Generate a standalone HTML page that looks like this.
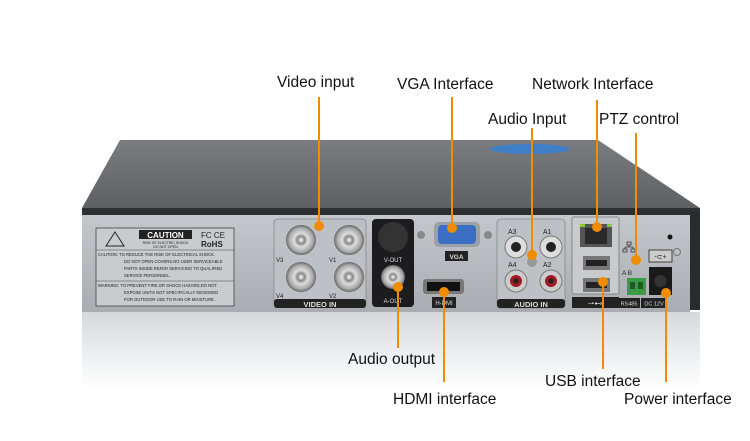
<!DOCTYPE html>
<html><head><meta charset="utf-8"><style>
html,body{margin:0;padding:0;background:#fff;width:750px;height:441px;overflow:hidden}
</style></head><body>
<svg width="750" height="441" viewBox="0 0 750 441" xmlns="http://www.w3.org/2000/svg" font-family="Liberation Sans, sans-serif">
<defs>
<linearGradient id="lid" x1="0" y1="0" x2="0" y2="1"><stop offset="0" stop-color="#7a7c80"/><stop offset="1" stop-color="#5e6064"/></linearGradient>
<linearGradient id="pan" x1="0" y1="0" x2="0" y2="1"><stop offset="0" stop-color="#c4c7cb"/><stop offset="1" stop-color="#a9acb0"/></linearGradient>
<linearGradient id="ref" x1="0" y1="0" x2="0" y2="1"><stop offset="0" stop-color="#d6d8db"/><stop offset="0.6" stop-color="#f0f1f2"/><stop offset="1" stop-color="#ffffff"/></linearGradient>
<radialGradient id="bnc"><stop offset="0" stop-color="#fff"/><stop offset="0.25" stop-color="#888"/><stop offset="0.45" stop-color="#ddd"/><stop offset="0.8" stop-color="#aaa"/><stop offset="1" stop-color="#666"/></radialGradient>
</defs>
<polygon points="82,312 700,312 700,390 82,390" fill="url(#ref)"/>
<polygon points="120,140 598,140 700,208 82,208" fill="url(#lid)"/>
<ellipse cx="530" cy="149" rx="40" ry="5" fill="#3f7fc8"/>
<rect x="82" y="208" width="618" height="7" fill="#2e2f31"/>
<rect x="82" y="215" width="608" height="97" fill="url(#pan)"/>
<rect x="690" y="212" width="10" height="98" fill="#2a2b2d"/>
<rect x="96" y="228" width="138" height="78" fill="#c9cbce" stroke="#444" stroke-width="0.8"/>
<line x1="96" y1="250" x2="234" y2="250" stroke="#444" stroke-width="0.6"/>
<line x1="96" y1="281" x2="234" y2="281" stroke="#444" stroke-width="0.6"/>
<polygon points="115,232 106,246 124,246" fill="none" stroke="#222" stroke-width="1"/>
<rect x="139" y="230" width="53" height="9" fill="#222"/>
<text x="165.5" y="238" font-size="8" font-weight="bold" fill="#fff" text-anchor="middle">CAUTION</text>
<text x="165.5" y="244" font-size="3.5" fill="#222" text-anchor="middle">RISK OF ELECTRIC SHOCK</text>
<text x="165.5" y="248" font-size="3.5" fill="#222" text-anchor="middle">DO NOT OPEN</text>
<text x="201" y="238" font-size="8" fill="#222">FC CE</text>
<text x="201" y="247" font-size="8" font-weight="bold" fill="#222">RoHS</text>
<g font-size="4.2" fill="#222"><text x="98" y="256">CAUTION: TO REDUCE THE RISK OF ELECTRICAL SHOCK.</text><text x="124" y="263">DO NOT OPEN COVERS.NO USER SERVICEABLE</text><text x="124" y="270">PARTS INSIDE.REFER SERVICING TO QUALIFIED</text><text x="124" y="277">SERVICE PERSONNEL.</text><text x="98" y="287">WARNING: TO PREVENT FIRE OR SHOCK HAZARD.DO NOT</text><text x="124" y="294">EXPOSE UNITS NOT SPECIFICALLY DESIGNED</text><text x="124" y="301">FOR OUTDOOR USE TO RAIN OR MOISTURE.</text></g>
<rect x="274" y="219" width="92" height="88" rx="4" fill="#bdc0c4" stroke="#888" stroke-width="0.8"/>
<rect x="274" y="299" width="92" height="9" rx="3" fill="#222"/>
<text x="320" y="307" font-size="7.5" font-weight="bold" fill="#ddd" text-anchor="middle">VIDEO IN</text>
<g fill="url(#bnc)"><circle cx="301" cy="240" r="15"/><circle cx="349" cy="240" r="15"/><circle cx="301" cy="277" r="15"/><circle cx="349" cy="277" r="15"/></g>
<g font-size="6" fill="#222"><text x="276" y="262">V3</text><text x="329" y="262">V1</text><text x="276" y="298">V4</text><text x="329" y="298">V2</text></g>
<rect x="372" y="219" width="42" height="88" rx="4" fill="#1c1c1e"/>
<circle cx="393" cy="237" r="15" fill="#333"/>
<text x="393" y="262" font-size="6" fill="#ddd" text-anchor="middle">V-OUT</text>
<circle cx="393" cy="277" r="12" fill="url(#bnc)"/>
<text x="393" y="303" font-size="6" fill="#ddd" text-anchor="middle">A-OUT</text>
<circle cx="421" cy="235" r="4" fill="#888"/><circle cx="488" cy="235" r="4" fill="#888"/>
<rect x="434" y="222" width="46" height="25" rx="5" fill="#9aa0a8"/>
<rect x="438" y="225" width="38" height="19" rx="4" fill="#3a6fc4"/>
<rect x="445" y="251" width="23" height="10" fill="#222"/>
<text x="456.5" y="259" font-size="6.5" font-weight="bold" fill="#ddd" text-anchor="middle">VGA</text>
<rect x="423" y="279" width="41" height="15" rx="3" fill="#777"/>
<rect x="427" y="282" width="33" height="9" fill="#111"/>
<rect x="432" y="297" width="24" height="11" fill="#222"/>
<text x="444" y="305" font-size="6" fill="#ddd" text-anchor="middle">H-DMI</text>
<rect x="497" y="219" width="68" height="89" rx="4" fill="#bdc0c4" stroke="#888" stroke-width="0.8"/>
<rect x="497" y="299" width="68" height="9" rx="3" fill="#222"/>
<text x="531" y="307" font-size="7.5" font-weight="bold" fill="#ddd" text-anchor="middle">AUDIO IN</text>
<g font-size="7" fill="#222"><text x="508" y="234">A3</text><text x="543" y="234">A1</text><text x="508" y="267">A4</text><text x="543" y="267">A2</text></g>
<circle cx="516" cy="247" r="11" fill="#ddd" stroke="#777"/><circle cx="516" cy="247" r="5" fill="#222"/>
<circle cx="551" cy="247" r="11" fill="#ddd" stroke="#777"/><circle cx="551" cy="247" r="5" fill="#222"/>
<circle cx="516" cy="281" r="11" fill="#ccc" stroke="#777"/><circle cx="516" cy="281" r="6" fill="#a01a22"/><circle cx="516" cy="281" r="2.5" fill="#222"/>
<circle cx="551" cy="281" r="11" fill="#ccc" stroke="#777"/><circle cx="551" cy="281" r="6" fill="#a01a22"/><circle cx="551" cy="281" r="2.5" fill="#222"/>
<circle cx="532" cy="262" r="5" fill="#999"/>
<rect x="572" y="217" width="47" height="77" rx="2" fill="#c8cacd" stroke="#777" stroke-width="0.8"/>
<rect x="580" y="224" width="32" height="23" fill="#555"/>
<rect x="585" y="228" width="22" height="16" fill="#2a2a2a"/>
<rect x="580" y="224" width="5" height="3" fill="#8c3"/><rect x="607" y="224" width="5" height="3" fill="#8c3"/>
<rect x="583" y="256" width="27" height="14" fill="#777"/><rect x="586" y="260" width="21" height="6" fill="#222"/>
<rect x="583" y="278" width="27" height="14" fill="#777"/><rect x="586" y="282" width="21" height="6" fill="#222"/>
<rect x="572" y="297" width="47" height="11" fill="#222"/>
<text x="595" y="306" font-size="8" fill="#ddd" text-anchor="middle">⇀⊷</text>
<g fill="none" stroke="#333" stroke-width="0.8"><rect x="627" y="242" width="4" height="3"/><rect x="623" y="249" width="4" height="3"/><rect x="631" y="249" width="4" height="3"/><path d="M629 245v2M625 247h8M625 247v2M633 247v2"/></g>
<text x="622" y="275" font-size="6.5" fill="#222">A  B</text>
<rect x="627" y="278" width="19" height="17" fill="#3a9a45"/>
<rect x="630" y="282" width="5" height="7" fill="#1d5a25"/><rect x="638" y="282" width="5" height="7" fill="#1d5a25"/>
<rect x="618" y="298" width="22" height="10" fill="#222"/>
<text x="629" y="305.5" font-size="5.5" fill="#ddd" text-anchor="middle">RS485</text>
<rect x="649" y="250" width="23" height="12" fill="#ccc" stroke="#222" stroke-width="0.8"/>
<text x="660.5" y="259" font-size="7" fill="#222" text-anchor="middle">-⊂+</text>
<rect x="649" y="267" width="23" height="28" fill="#1a1a1a"/>
<circle cx="660.5" cy="281" r="6" fill="#333"/>
<rect x="641" y="298" width="26" height="10" fill="#222"/>
<text x="654" y="305.5" font-size="5.5" fill="#ddd" text-anchor="middle">DC 12V</text>
<circle cx="670" cy="237" r="2.5" fill="#111"/>
<circle cx="677" cy="252" r="3.5" fill="none" stroke="#777"/>
<g stroke="#f08c00" stroke-width="2" fill="none">
<line x1="319" y1="97" x2="319" y2="226"/>
<line x1="452" y1="97" x2="452" y2="228"/>
<line x1="597" y1="100" x2="597" y2="227"/>
<line x1="532" y1="128" x2="532" y2="255"/>
<line x1="636" y1="133" x2="636" y2="260"/>
<line x1="398" y1="287" x2="398" y2="348"/>
<line x1="444" y1="292" x2="444" y2="382"/>
<line x1="603" y1="282" x2="603" y2="369"/>
<line x1="666" y1="293" x2="666" y2="382"/>
</g>
<g fill="#f08c00">
<circle cx="319" cy="226" r="5"/><circle cx="452" cy="228" r="5"/><circle cx="597" cy="227" r="5"/>
<circle cx="532" cy="255" r="5"/><circle cx="636" cy="260" r="5"/><circle cx="398" cy="287" r="5"/>
<circle cx="444" cy="292" r="5"/><circle cx="603" cy="282" r="5"/><circle cx="666" cy="293" r="5"/>
</g>
<g font-size="15.5" fill="#111">
<text x="277" y="87">Video input</text>
<text x="397" y="89">VGA Interface</text>
<text x="532" y="89">Network Interface</text>
<text x="488" y="124">Audio Input</text>
<text x="599" y="124">PTZ control</text>
<text x="348" y="364">Audio output</text>
<text x="393" y="404">HDMI interface</text>
<text x="545" y="386">USB interface</text>
<text x="624" y="404">Power interface</text>
</g>
</svg>
</body></html>
